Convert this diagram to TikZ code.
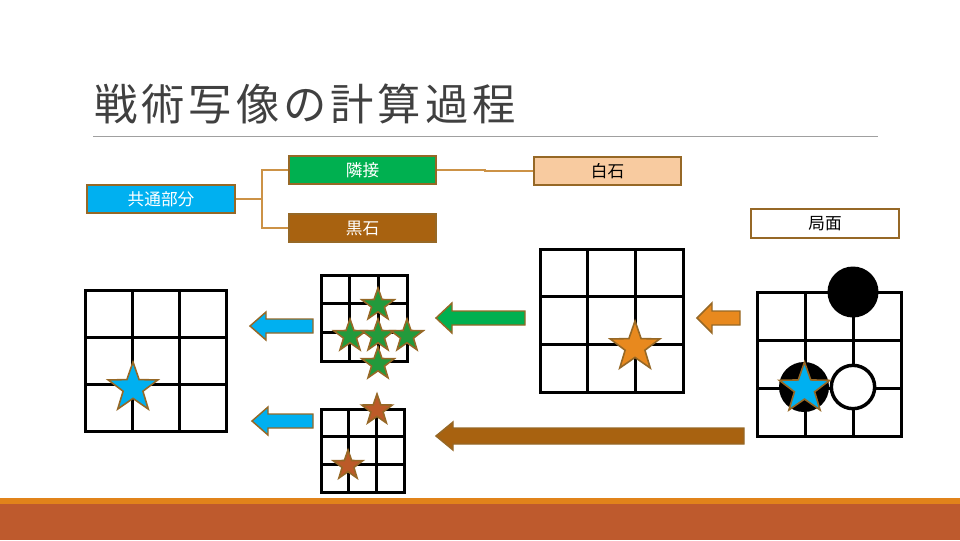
\documentclass[tikz,border=0pt]{standalone}
\usepackage{fontspec}
\setmainfont{Noto Sans CJK JP}
\usetikzlibrary{shapes.geometric}

\definecolor{titlegray}{RGB}{64,64,64}
\definecolor{rulegray}{RGB}{160,160,160}
\definecolor{edgebrown}{RGB}{150,104,38}
\definecolor{linkbrown}{RGB}{204,146,70}
\definecolor{cyanb}{RGB}{0,176,240}
\definecolor{greenb}{RGB}{0,176,80}
\definecolor{brownb}{RGB}{168,98,16}
\definecolor{peach}{RGB}{248,203,160}
\definecolor{starorange}{RGB}{232,137,30}
\definecolor{stargreen}{RGB}{34,154,60}
\definecolor{starbrown}{RGB}{188,90,40}
\definecolor{bandorange}{RGB}{225,131,26}
\definecolor{bandrust}{RGB}{190,90,45}

\tikzset{every picture/.style={line width=0.75pt}}
\tikzset{
  tag/.style={draw=edgebrown, line width=1.5pt, minimum width=110.5pt, minimum height=21.5pt, inner sep=0pt, font=\fontsize{12.5}{15}\selectfont},
  link/.style={draw=linkbrown, line width=1.5pt},
  boardline/.style={draw=black, line width=2.25pt},
  gostar/.style={star, star points=5, star point ratio=2.5, draw=edgebrown, line width=1.2pt, inner sep=0pt},
  stone/.style={circle, inner sep=0pt},
  fatarrow/.style={draw=edgebrown, line width=1.1pt, line join=miter},
}

% board: left x, top y, cell
\newcommand{\goboard}[3]{%
  \draw[boardline] (#1,#2) rectangle (#1+3*#3,#2+3*#3);
  \foreach \k in {1,2} {
    \draw[boardline] (#1+\k*#3,#2) -- (#1+\k*#3,#2+3*#3);
    \draw[boardline] (#1,#2+\k*#3) -- (#1+3*#3,#2+\k*#3);
  }}
% block arrow pointing left: fill, tip x, tail x, mid y, shaft half, head half, head length
\newcommand{\fatleft}[7]{%
  \draw[fatarrow, fill=#1] (#2,#4) -- (#2+#7,#4-#6) -- (#2+#7,#4-#5) -- (#3,#4-#5) -- (#3,#4+#5) -- (#2+#7,#4+#5) -- (#2+#7,#4+#6) -- cycle;}

\begin{document}
\begin{tikzpicture}[x=0.75pt,y=0.75pt,yscale=-1,xscale=1]
\useasboundingbox (0,0) rectangle (960,540);

% Text Node
\node[anchor=west, inner sep=0pt, text=titlegray, font=\fontsize{32.5}{40}\selectfont\addfontfeature{LetterSpace=9}] (title) at (94,104) {戦術写像の計算過程};
%Straight Lines
\draw[rulegray, line width=0.75pt] (93,136) -- (878,136);

% Text Node
\node[tag, fill=cyanb, text=white] (common) at (161,199) {共通部分};
% Text Node
\node[tag, fill=greenb, text=white] (adj) at (362.5,170) {隣接};
% Text Node
\node[tag, fill=brownb, text=white] (blackst) at (362.5,228) {黒石};
% Text Node
\node[tag, fill=peach] (whitest) at (607.5,171) {白石};
% Text Node
\node[tag, fill=white] (pos) at (825,223.5) {局面};

%Straight Lines
\coordinate (fork) at (262,199);
\coordinate (kink) at (485,170);
\draw[link] (common.east) -- (fork) |- (adj.west);
\draw[link] (fork) |- (blackst.west);
\draw[link] (adj.east) -- (kink) |- (whitest.west);

%Shape: Boards
\goboard{85}{290}{47.3}
\goboard{321}{275}{28.8}
\goboard{321}{409}{27.7}
\goboard{540}{249}{47.8}
\goboard{757}{292}{48}

%Shape: Stones
\node[stone, fill=black, minimum size=38.25pt] (stoneA) at (853,292) {};
\node[stone, fill=black, minimum size=37.5pt] (stoneB) at (804,387) {};
\node[stone, fill=white, draw=black, line width=2.6pt, minimum size=32.5pt] (stoneC) at (853,387) {};

%Shape: Stars
\node[gostar, fill=cyanb, minimum size=39pt] (starL) at (133,388) {};
\node[gostar, fill=stargreen, minimum size=25.5pt] (starG1) at (378,305) {};
\node[gostar, fill=stargreen, minimum size=25.5pt] (starG2) at (350,336) {};
\node[gostar, fill=stargreen, minimum size=25.5pt] (starG3) at (378,336) {};
\node[gostar, fill=stargreen, minimum size=25.5pt] (starG4) at (407,336) {};
\node[gostar, fill=stargreen, minimum size=25.5pt] (starG5) at (378,364) {};
\node[gostar, fill=starbrown, minimum size=24pt] (starB1) at (377,410) {};
\node[gostar, fill=starbrown, minimum size=23.25pt] (starB2) at (348,465.5) {};
\node[gostar, fill=starorange, minimum size=39pt] (starO) at (635,347) {};
\node[gostar, fill=cyanb, minimum size=39.75pt] (starR) at (804.5,388.5) {};

%Shape: Block Arrows
\fatleft{cyanb}{250}{313}{326}{7}{14}{16}
\fatleft{cyanb}{252}{313}{421}{7}{14}{16}
\fatleft{greenb}{436}{525}{318}{7}{15}{16}
\fatleft{starorange}{697}{740}{318}{7}{15}{15}
\fatleft{brownb}{436}{744}{436}{8}{14}{17}

%Shape: Band
\fill[bandorange] (0,498) rectangle (960,504);
\fill[bandrust] (0,504) rectangle (960,540);

\end{tikzpicture}
\end{document}
